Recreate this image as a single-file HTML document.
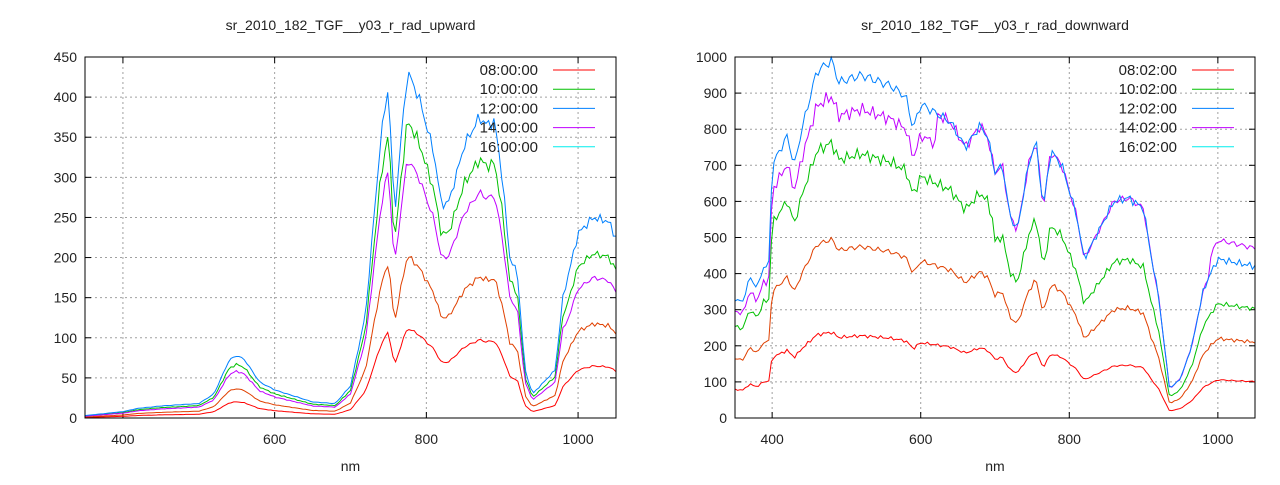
<!DOCTYPE html>
<html><head><meta charset="utf-8"><style>
body{margin:0;background:#fff;}
svg text{font-family:"Liberation Sans",sans-serif;font-size:14px;fill:#222;}
</style></head><body>
<svg id="s" width="1280" height="480" xmlns="http://www.w3.org/2000/svg"></svg>
<script>
const S=document.getElementById('s');let h='';
function interp(pts,x){for(let i=0;i<pts.length-1;i++){if(x>=pts[i][0]&&x<=pts[i+1][0]){const t=(x-pts[i][0])/(pts[i+1][0]-pts[i][0]);return pts[i][1]+t*(pts[i+1][1]-pts[i][1]);}}return pts[pts.length-1][1];}
function noise(x,k){return Math.sin(x*0.9+k)*0.5+Math.sin(x*2.3+k*2)*0.5;}
function plot(o){
 const {x0,x1,y0,y1,ymax,ystep,title,base,series,legend}=o;
 const X=v=>x0+(v-350)/700*(x1-x0), Y=v=>y1-v/ymax*(y1-y0);
 h+=`<text x="${(x0+x1)/2}" y="30" text-anchor="middle">${title}</text>`;
 for(let v=400;v<=1000;v+=200){const px=X(v);h+=`<line x1="${px}" y1="${y0}" x2="${px}" y2="${y1}" stroke="#a0a0a0" stroke-dasharray="2,3"/><line x1="${px}" y1="${y1}" x2="${px}" y2="${y1-6}" stroke="#000"/><line x1="${px}" y1="${y0}" x2="${px}" y2="${y0+6}" stroke="#000"/><text x="${px}" y="${y1+26}" text-anchor="middle">${v}</text>`;}
 for(let v=0;v<=ymax;v+=ystep){const py=Y(v);if(v>0&&v<ymax)h+=`<line x1="${x0}" y1="${py}" x2="${x1}" y2="${py}" stroke="#a0a0a0" stroke-dasharray="2,3"/>`;h+=`<line x1="${x0}" y1="${py}" x2="${x0+6}" y2="${py}" stroke="#000"/><line x1="${x1}" y1="${py}" x2="${x1-6}" y2="${py}" stroke="#000"/><text x="${x0-8}" y="${py+5}" text-anchor="end">${v}</text>`;}
 h+=`<text x="${(x0+x1)/2}" y="471" text-anchor="middle">nm</text>`;
 for(const s of series){let p=[];for(let l=350;l<=1050;l+=3.5){let v=interp(base,l)*s.r(l);v+=noise(l,s.k)*v*0.025;p.push(X(l).toFixed(1)+','+Math.max(y0,Y(v)).toFixed(1));}
  h+=`<polyline points="${p.join(' ')}" fill="none" stroke="${s.c}" stroke-width="1"/>`;}
 const lc=['#ff0000','#00c000','#0080ff','#c000ff','#00eeee'];
 legend.forEach((t,i)=>{const py=y0+13+i*19.2;h+=`<text x="${x1-78}" y="${py+5}" text-anchor="end" style="font-size:15px">${t}</text><line x1="${x1-63}" y1="${py}" x2="${x1-21}" y2="${py}" stroke="${lc[i]}"/>`;});
 h+=`<rect x="${x0}" y="${y0}" width="${x1-x0}" height="${y1-y0}" fill="none" stroke="#000"/>`;
}
const up=[[350,3],[400,8],[420,12],[450,15],[500,18],[520,30],[540,72],[550,78],[560,73],[580,45],[600,35],[650,20],[680,18],[700,40],[720,130],[740,350],[750,415],[758,250],[765,330],[775,432],[790,400],[810,330],[820,265],[830,270],[850,340],[870,375],[880,365],[890,370],[900,300],[910,200],[920,180],[930,60],[940,30],[950,40],[970,60],[980,150],[1000,230],[1020,250],[1040,245],[1050,225]];
plot({x0:85,x1:616,y0:57,y1:418,ymax:450,ystep:50,title:'sr_2010_182_TGF__y03_r_rad_upward',base:up,
 legend:['08:00:00','10:00:00','12:00:00','14:00:00','16:00:00'],
 series:[{c:'#ff0000',r:l=>0.26,k:1},{c:'#e04000',r:l=>0.47,k:2},{c:'#00c000',r:l=>l>980?0.82:0.86,k:3},{c:'#c000ff',r:l=>l>980?0.7:0.75,k:4},{c:'#0080ff',r:l=>1,k:5}]});
const dn=[[350,330],[360,320],[370,390],[380,360],[390,430],[395,400],[400,700],[420,780],[430,700],[440,800],[460,960],[480,990],[490,930],[520,950],[560,920],[580,890],[590,800],[600,870],[640,820],[660,750],[680,810],[690,780],[700,680],[710,700],[720,560],[730,520],[745,700],[755,770],[765,580],[775,740],[790,700],[810,560],[820,440],[840,520],[860,600],[880,610],[900,580],[910,450],[920,340],[935,80],[950,110],[965,200],[980,350],[990,400],[1000,440],[1050,420]];
plot({x0:735,x1:1255,y0:57,y1:418,ymax:1000,ystep:100,title:'sr_2010_182_TGF__y03_r_rad_downward',base:dn,
 legend:['08:02:00','10:02:00','12:02:00','14:02:00','16:02:00'],
 series:[{c:'#ff0000',r:l=>0.24,k:1},{c:'#e04000',r:l=>0.5,k:2},{c:'#00c000',r:l=>l<700?0.77:0.72,k:3},{c:'#c000ff',r:l=>l<620?0.9:(l<990?1:1.12),k:4},{c:'#0080ff',r:l=>1,k:5}]});
S.innerHTML=h;
</script>
</body></html>
